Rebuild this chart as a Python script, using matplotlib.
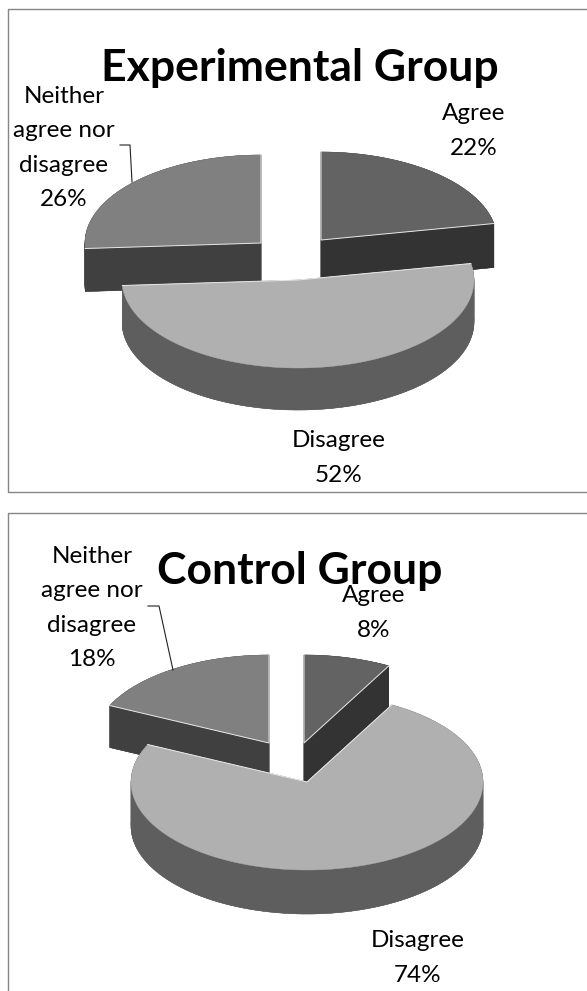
"""Two exploded 3D-look pies, drawn in pixel coordinates on one axes."""

import numpy as np
import matplotlib
matplotlib.use("Agg")
import matplotlib.pyplot as plt
from matplotlib.patches import Polygon

W, H = 587, 991

CATEGORIES = ["Agree", "Disagree", "Neither\nagree nor\ndisagree"]
EXPERIMENTAL_PCT = [22, 52, 26]
CONTROL_PCT = [8, 74, 18]

TOP_COLORS = ["#636363", "#b0b0b0", "#808080"]
SIDE_COLORS = ["#333333", "#5e5e5e", "#404040"]
RX, RY = 176, 88

plt.rcParams["font.family"] = ["Lato", "DejaVu Sans"]


def slice_outline(center, start, end):
    """Apex plus rim points; angles are degrees clockwise from 12 o'clock."""
    cx, cy = center
    t = np.radians(np.linspace(start, end, 120))
    xs = np.r_[cx, cx + RX * np.sin(t)]
    ys = np.r_[cy, cy - RY * np.cos(t)]
    return np.column_stack([xs, ys])


def draw_slice(ax, center, start, end, depth, top, side, z):
    pts = slice_outline(center, start, end)
    low = pts + [0, depth]
    n = len(pts)
    ax.add_patch(Polygon(low, closed=True, fc=side, ec=side, lw=0.3, zorder=z))
    for i in range(n):
        j = (i + 1) % n
        quad = [pts[i], pts[j], low[j], low[i]]
        ax.add_patch(Polygon(quad, closed=True, fc=side, ec=side, lw=0.3, zorder=z))
    ax.add_patch(Polygon(pts, closed=True, fc=top, ec=top, lw=0.3, zorder=z + 0.5))
    # thin light line only along the two cut edges
    ax.plot([pts[1, 0], pts[0, 0], pts[-1, 0]], [pts[1, 1], pts[0, 1], pts[-1, 1]],
            color="#e8e8e8", lw=0.7, zorder=z + 0.6)


def draw_pie(ax, values, centers, depths):
    """Back slices first, the big front slice (index 1) goes on top."""
    edges = np.cumsum([0] + list(values)) * 3.6
    for i, z in zip((0, 2, 1), (2, 2, 4)):
        draw_slice(ax, centers[i], edges[i], edges[i + 1], depths[i],
                   TOP_COLORS[i], SIDE_COLORS[i], z)


def label(ax, x, y, text):
    ax.text(x, y, text, ha="center", va="center", fontsize=17.5, color="black",
            linespacing=1.8, zorder=8)


fig = plt.figure(figsize=(W / 100, H / 100), dpi=100)
ax = fig.add_axes([0, 0, 1, 1])
ax.set_xlim(0, W)
ax.set_ylim(H, 0)
ax.axis("off")

# frames (right side runs off the image, second one has no bottom edge)
ax.plot([W, 7.5, 7.5, W], [8.5, 8.5, 491.5, 491.5], color="#868686", lw=1.0)
ax.plot([W, 7.5, 7.5], [512.5, 512.5, H], color="#868686", lw=1.0)

# experimental group
draw_pie(ax, EXPERIMENTAL_PCT, [(321, 240), (298, 280), (261, 243)], [44, 42, 43])
ax.text(300, 68, "Experimental Group", ha="center", va="center", fontsize=32,
        fontweight="bold", zorder=9)
label(ax, 474, 131, f"{CATEGORIES[0]}\n{EXPERIMENTAL_PCT[0]}%")
label(ax, 339, 458, f"{CATEGORIES[1]}\n{EXPERIMENTAL_PCT[1]}%")
label(ax, 64, 148, f"{CATEGORIES[2]}\n{EXPERIMENTAL_PCT[2]}%")
ax.plot([120, 130, 132], [145, 145, 182], color="#222222", lw=0.8, zorder=7)

# control group
draw_pie(ax, CONTROL_PCT, [(304, 743), (307, 782), (269, 743)], [41, 44, 42])
ax.text(300, 571, "Control Group", ha="center", va="center", fontsize=32,
        fontweight="bold", zorder=9)
label(ax, 374, 613, f"{CATEGORIES[0]}\n{CONTROL_PCT[0]}%")
label(ax, 418, 958, f"{CATEGORIES[1]}\n{CONTROL_PCT[1]}%")
label(ax, 92, 608, f"{CATEGORIES[2]}\n{CONTROL_PCT[2]}%")
ax.plot([148, 159, 173], [606, 606, 670], color="#222222", lw=0.8, zorder=7)

fig.savefig("out.png", dpi=100)
